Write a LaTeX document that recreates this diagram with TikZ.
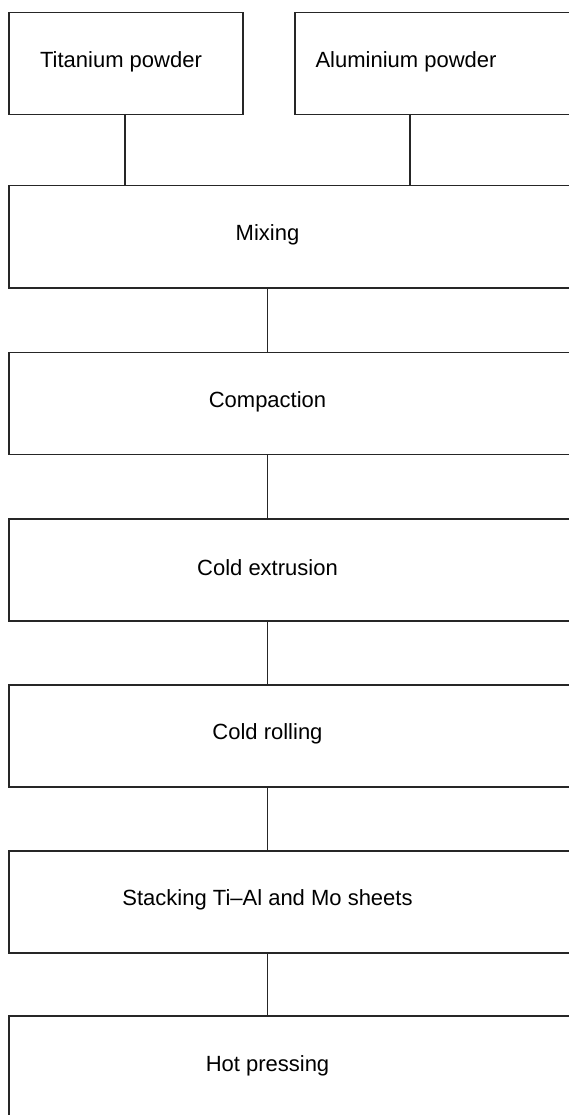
\documentclass[tikz,border=0pt]{standalone}
\usepackage{fontspec}
\setmainfont{Liberation Sans}
\begin{document}
\begin{tikzpicture}[x=1pt,y=-1pt,
  box/.style={draw=black!85, line width=1.5pt, rectangle, inner sep=0pt, anchor=north west},
  lbl/.style={font=\fontsize{22}{25}\selectfont, text=black, inner sep=0pt},
  conn/.style={draw=black!85, line width=1.5pt}]
\useasboundingbox (0,0) rectangle (569,1115);
\clip (0,0) rectangle (569,1115);
% top boxes
\node[box, minimum width=234pt, minimum height=102pt] (ti) at (8,12) {};
\node[lbl] (tit) at (121,62) {Titanium powder};
\node[box, minimum width=300pt, minimum height=102pt] (al) at (294,12) {};
\node[lbl] (alt) at (406,62) {Aluminium powder};
\coordinate (alc) at (410,114);
% process boxes
\node[box, minimum width=580pt, minimum height=102pt] (mix) at (8,185) {};
\node[lbl] (mixt) at (267.5,235) {Mixing};
\node[box, minimum width=580pt, minimum height=102pt] (comp) at (8,351.5) {};
\node[lbl] (compt) at (267.5,401.5) {Compaction};
\node[box, minimum width=580pt, minimum height=102pt] (ext) at (8,518) {};
\node[lbl] (extt) at (267.5,568) {Cold extrusion};
\node[box, minimum width=580pt, minimum height=102pt] (roll) at (8,684) {};
\node[lbl] (rollt) at (267.5,734) {Cold rolling};
\node[box, minimum width=580pt, minimum height=102pt] (stack) at (8,850) {};
\node[lbl] (stackt) at (267.5,900) {Stacking Ti–Al and Mo sheets};
\node[box, minimum width=580pt, minimum height=102pt] (hot) at (8,1015) {};
\node[lbl] (hott) at (267.5,1066) {Hot pressing};
% connectors
\coordinate (tic) at (125,114);
\draw[conn] (tic) -- (tic |- mix.north);
\draw[conn] (alc) -- (alc |- mix.north);
\draw[conn] (mixt |- mix.south) -- (mixt |- comp.north);
\draw[conn] (mixt |- comp.south) -- (mixt |- ext.north);
\draw[conn] (mixt |- ext.south) -- (mixt |- roll.north);
\draw[conn] (mixt |- roll.south) -- (mixt |- stack.north);
\draw[conn] (mixt |- stack.south) -- (mixt |- hot.north);
\end{tikzpicture}
\end{document}
